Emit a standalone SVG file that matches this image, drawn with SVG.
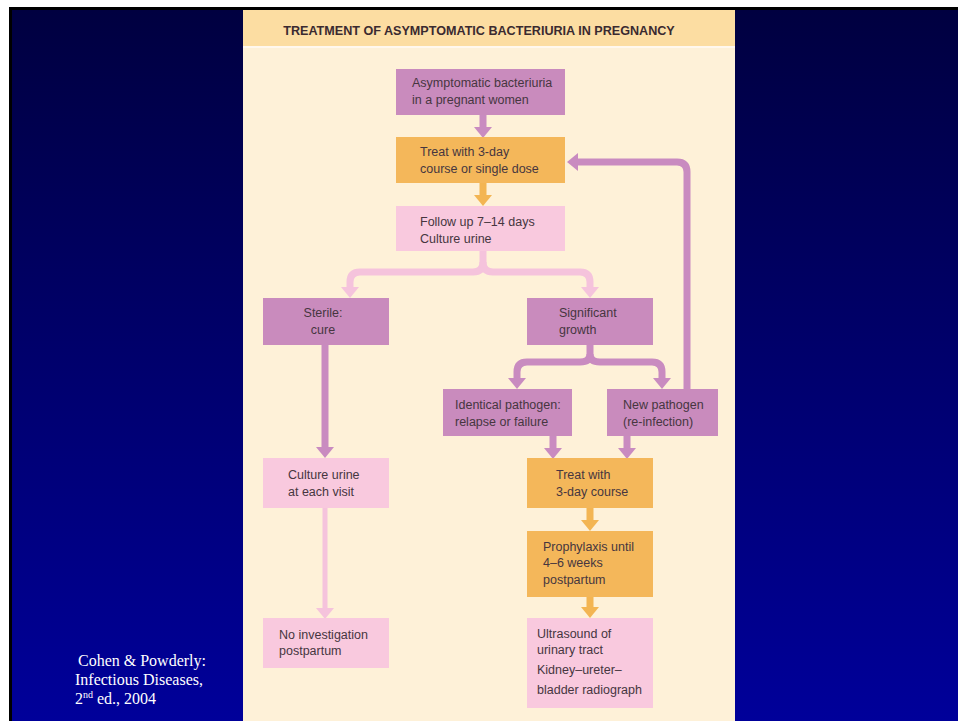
<svg xmlns="http://www.w3.org/2000/svg" width="958" height="721" viewBox="0 0 958 721">
<defs>
<linearGradient id="bg" x1="0" y1="0" x2="0" y2="1">
<stop offset="0" stop-color="#000040"/>
<stop offset="1" stop-color="#00009a"/>
</linearGradient>
<marker id="hM" markerUnits="userSpaceOnUse" markerWidth="12" markerHeight="18" refX="0" refY="9" orient="auto" viewBox="0 0 12 18"><path d="M0,0 L11,9 L0,18 Z" fill="#c98bc0"/></marker>
<marker id="hP" markerUnits="userSpaceOnUse" markerWidth="12" markerHeight="18" refX="0" refY="9" orient="auto" viewBox="0 0 12 18"><path d="M0,0 L11,9 L0,18 Z" fill="#f5c3dc"/></marker>
<marker id="hO" markerUnits="userSpaceOnUse" markerWidth="12" markerHeight="18" refX="0" refY="9" orient="auto" viewBox="0 0 12 18"><path d="M0,0 L11,9 L0,18 Z" fill="#f3b553"/></marker>
</defs>
<style>
.mauve{fill:#c98bbd}
.orange{fill:#f4b75a}
.pink{fill:#f9c9de}
.t{font-family:"Liberation Sans",Arial,sans-serif;font-size:12.5px;fill:#46363f}
.title{font-family:"Liberation Sans",Arial,sans-serif;font-size:12.6px;font-weight:bold;fill:#3a2a30}
.cite{font-family:"Liberation Serif","Times New Roman",serif;font-size:16px;fill:#ffffff}
.cm{fill:none;stroke:#c98bc0;stroke-width:7;stroke-linejoin:round}
.cp{fill:none;stroke:#f5c3dc;stroke-width:7;stroke-linejoin:round}
.co{fill:none;stroke:#f3b553;stroke-width:7}
</style>
<rect x="0" y="0" width="958" height="721" fill="#ffffff"/>
<rect x="9" y="7" width="949" height="714" fill="#000000"/>
<rect x="12" y="10" width="946" height="711" fill="url(#bg)"/>
<rect x="243" y="10" width="492" height="711" fill="#fef1d8"/>
<rect x="243" y="10" width="492" height="36" fill="#fcdda2"/>
<rect x="243" y="46" width="492" height="2" fill="#fff8ee"/>
<text class="title" x="479" y="35" text-anchor="middle">TREATMENT OF ASYMPTOMATIC BACTERIURIA IN PREGNANCY</text>

<g id="connectors">
<path class="cm" d="M483 115 V127" marker-end="url(#hM)"/>
<path class="co" d="M483 183 V195" marker-end="url(#hO)"/>
<path class="cp" d="M483 251 V262 Q483 272 473 272 H360 Q350 272 350 282 V287" marker-end="url(#hP)"/>
<path class="cp" d="M483 262 Q483 272 493 272 H580 Q590 272 590 282 V287" marker-end="url(#hP)"/>
<path class="cm" d="M325 345 V447" marker-end="url(#hM)"/>
<path class="cm" d="M590 345 V354 Q590 362 580 362 H527 Q517 362 517 372 V378" marker-end="url(#hM)"/>
<path class="cm" d="M590 354 Q590 362 600 362 H652 Q662 362 662 372 V378" marker-end="url(#hM)"/>
<path class="cm" d="M687 389 V172 Q687 162 677 162 H578" marker-end="url(#hM)"/>
<path class="cm" d="M553 436 V448" marker-end="url(#hM)"/>
<path class="cm" d="M627 436 V448" marker-end="url(#hM)"/>
<path class="cp" style="stroke-width:5" d="M325 508 V608" marker-end="url(#hP)"/>
<path class="co" d="M590 508 V520" marker-end="url(#hO)"/>
<path class="co" d="M590 597 V607" marker-end="url(#hO)"/>
</g>

<g id="n-start"><rect class="mauve" x="396" y="69" width="169" height="46"/>
<text class="t" x="412" y="87">Asymptomatic bacteriuria</text>
<text class="t" x="412" y="104">in a pregnant women</text></g>

<g id="n-treat1"><rect class="orange" x="396" y="137" width="169" height="46"/>
<text class="t" x="420" y="156">Treat with 3-day</text>
<text class="t" x="420" y="173">course or single dose</text></g>

<g id="n-follow"><rect class="pink" x="396" y="206" width="169" height="45"/>
<text class="t" x="420" y="226">Follow up 7–14 days</text>
<text class="t" x="420" y="243">Culture urine</text></g>

<g id="n-sterile"><rect class="mauve" x="263" y="298" width="126" height="47"/>
<text class="t" x="323" y="317" text-anchor="middle">Sterile:</text>
<text class="t" x="323" y="334" text-anchor="middle">cure</text></g>

<g id="n-growth"><rect class="mauve" x="527" y="298" width="126" height="47"/>
<text class="t" x="559" y="317">Significant</text>
<text class="t" x="559" y="334">growth</text></g>

<g id="n-identical"><rect class="mauve" x="443" y="389" width="129" height="47"/>
<text class="t" x="455" y="409">Identical pathogen:</text>
<text class="t" x="455" y="426">relapse or failure</text></g>

<g id="n-new"><rect class="mauve" x="607" y="389" width="111" height="47"/>
<text class="t" x="623" y="409">New pathogen</text>
<text class="t" x="623" y="426">(re-infection)</text></g>

<g id="n-culture"><rect class="pink" x="263" y="458" width="126" height="50"/>
<text class="t" x="288" y="479">Culture urine</text>
<text class="t" x="288" y="496">at each visit</text></g>

<g id="n-treat2"><rect class="orange" x="527" y="458" width="126" height="50"/>
<text class="t" x="556" y="479">Treat with</text>
<text class="t" x="556" y="496">3-day course</text></g>

<g id="n-prophylaxis"><rect class="orange" x="527" y="531" width="126" height="66"/>
<text class="t" x="543" y="551">Prophylaxis until</text>
<text class="t" x="543" y="567">4–6 weeks</text>
<text class="t" x="543" y="584">postpartum</text></g>

<g id="n-noinv"><rect class="pink" x="263" y="618" width="126" height="50"/>
<text class="t" x="279" y="639">No investigation</text>
<text class="t" x="279" y="655">postpartum</text></g>

<g id="n-ultrasound"><rect class="pink" x="527" y="618" width="126" height="90"/>
<text class="t" x="537" y="638">Ultrasound of</text>
<text class="t" x="537" y="654">urinary tract</text>
<text class="t" x="537" y="674">Kidney–ureter–</text>
<text class="t" x="537" y="694">bladder radiograph</text></g>

<text class="cite" x="78" y="666">Cohen &amp; Powderly:</text>
<text class="cite" x="75" y="685">Infectious Diseases,</text>
<text class="cite" x="75" y="704">2<tspan font-size="10" dy="-6">nd</tspan><tspan dy="6"> ed., 2004</tspan></text>
</svg>
